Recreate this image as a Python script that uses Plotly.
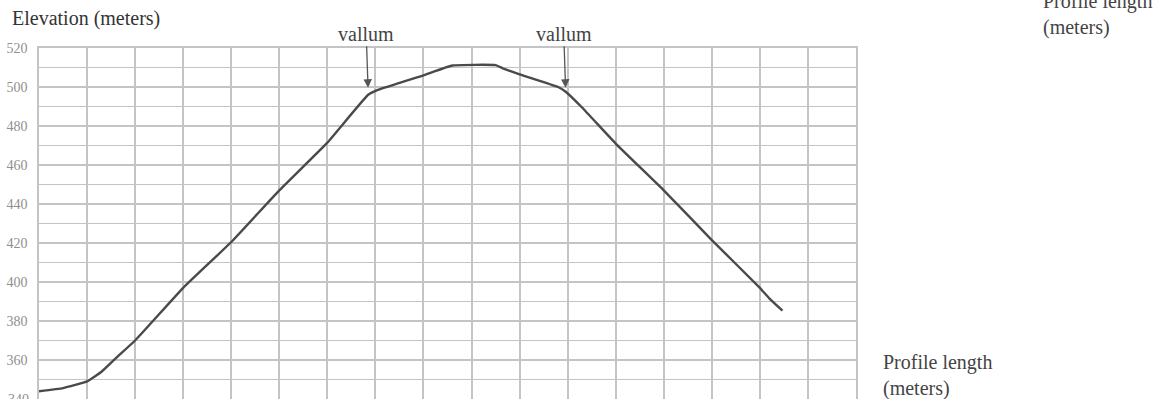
import plotly.graph_objects as go

# Terrain profile across the fortification (distance in grid cells, elevation in m)
profile_x = [0, 0.5, 1.0, 1.3, 1.6, 2.0, 3.0, 4.0, 5.0, 6.0, 6.85, 7.05, 8.0, 8.6,
             9.5, 9.65, 10.0, 10.8, 10.96, 11.3, 12.0, 13.0, 14.0, 15.0, 15.2, 15.47]
elevation = [344, 345.6, 349, 354, 361, 370, 397, 420.5, 447, 471.5, 496, 498.5, 506,
             511, 511.2, 509.6, 506.5, 500, 497.6, 489.5, 471, 447, 421.5, 397, 391.5, 385.3]

y_ticks = [340, 360, 380, 400, 420, 440, 460, 480, 500, 520]
vallum_x = [6.85, 10.96]
vallum_y = [497.6, 497.6]

SERIF = "Liberation Serif, Times New Roman, serif"
GRID = "#c4c4c4"
TICK_FONT = dict(family=SERIF, size=14, color="#8f8f8f")

fig = go.Figure()
fig.add_trace(go.Scatter(
    x=profile_x, y=elevation, mode="lines",
    line=dict(color="#4a4a4a", width=2.4, shape="spline", smoothing=0.35),
    hoverinfo="skip", showlegend=False,
))

fig.update_xaxes(
    range=[0, 17], dtick=1, tick0=0,
    showgrid=True, gridcolor=GRID, gridwidth=1.5,
    showline=True, linecolor=GRID, linewidth=1.5, mirror=True,
    showticklabels=False, zeroline=False,
)
fig.update_yaxes(
    range=[340, 520], tickvals=y_ticks,
    showgrid=True, gridcolor=GRID, gridwidth=1.8,
    minor=dict(dtick=10, tick0=340, showgrid=True, gridcolor=GRID, gridwidth=1.2),
    showline=True, linecolor=GRID, linewidth=1.5, mirror=True,
    tickfont=TICK_FONT, ticklabelstandoff=7, zeroline=False,
)

for vx, vy in zip(vallum_x, vallum_y):
    fig.add_annotation(
        x=vx, y=vy, text="vallum", showarrow=True,
        ax=-2, ay=-58, arrowhead=2, arrowsize=1.3, arrowwidth=1.3,
        arrowcolor="#555555", standoff=4,
        font=dict(family=SERIF, size=20, color="#444444"),
    )

fig.update_layout(
    width=1157, height=399,
    margin=dict(l=39, r=301, t=48, b=0),
    plot_bgcolor="white", paper_bgcolor="white",
    showlegend=False,
)

# Axis captions placed in pixel terms relative to the plotting area
pl, pr, pt, pb = 39, 1157 - 301, 48, 399
def px(xp):
    return (xp - pl) / (pr - pl)
def py(yp):
    return (pb - yp) / (pb - pt)

# lowest tick label sits on the bottom edge of the page
fig.add_annotation(x=px(31), y=y_ticks[0], xref="paper", yref="y",
                   xanchor="right", yanchor="middle", showarrow=False,
                   text=str(y_ticks[0]), font=TICK_FONT)

fig.add_annotation(x=px(10), y=py(18), xref="paper", yref="paper",
                   xanchor="left", yanchor="middle", showarrow=False,
                   text="Elevation (meters)",
                   font=dict(family=SERIF, size=20, color="#333333"))
fig.add_annotation(x=px(881), y=py(375), xref="paper", yref="paper",
                   xanchor="left", yanchor="middle", showarrow=False, align="left",
                   text="Profile length<br>(meters)",
                   font=dict(family=SERIF, size=20, color="#444444"))
fig.add_annotation(x=px(1041), y=py(14), xref="paper", yref="paper",
                   xanchor="left", yanchor="middle", showarrow=False, align="left",
                   text="Profile length<br>(meters)",
                   font=dict(family=SERIF, size=20, color="#444444"))

fig.write_html("out.html")
